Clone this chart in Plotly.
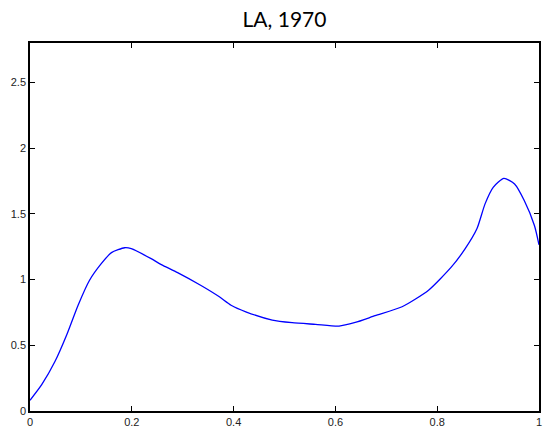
import plotly.graph_objects as go

x_vals = [0.0, 0.023, 0.049, 0.072, 0.0945, 0.117, 0.140, 0.160, 0.186, 0.199, 0.238,
          0.258, 0.290, 0.336, 0.372, 0.395, 0.424, 0.476, 0.515, 0.561, 0.607, 0.639,
          0.678, 0.731, 0.783, 0.828, 0.855, 0.878, 0.894, 0.910, 0.931, 0.952, 0.971,
          0.991, 1.0]
y_vals = [0.081, 0.20, 0.376, 0.578, 0.805, 0.995, 1.121, 1.205, 1.242, 1.235, 1.159,
          1.114, 1.053, 0.955, 0.869, 0.805, 0.755, 0.692, 0.672, 0.659, 0.646, 0.674,
          0.725, 0.793, 0.919, 1.096, 1.235, 1.386, 1.576, 1.702, 1.770, 1.727, 1.601,
          1.411, 1.265]

x_ticks = [0, 0.2, 0.4, 0.6, 0.8, 1]
x_tick_labels = ["0", "0.2", "0.4", "0.6", "0.8", "1"]
y_ticks = [0, 0.5, 1, 1.5, 2, 2.5]
y_tick_labels = ["0", "0.5", "1", "1.5", "2", "2.5"]
title_text = "LA, 1970"

fig = go.Figure()
fig.add_trace(go.Scatter(x=x_vals, y=y_vals, mode="lines",
                         line=dict(color="#0000ff", width=1.3, shape="spline", smoothing=0.6),
                         showlegend=False, hoverinfo="skip"))

axis_common = dict(showline=True, linecolor="black", linewidth=1.5, mirror="ticks",
                   ticks="inside", ticklen=5, tickcolor="black", tickwidth=1,
                   showgrid=False, zeroline=False,
                   tickfont=dict(family="Liberation Sans, Arial, sans-serif", size=11, color="#222"))

fig.update_xaxes(range=[0, 1], tickvals=x_ticks, ticktext=x_tick_labels, **axis_common)
fig.update_yaxes(range=[0, 2.8], tickvals=y_ticks, ticktext=y_tick_labels, **axis_common)

fig.update_layout(
    width=543, height=430,
    margin=dict(l=30, r=2, t=43, b=17),
    paper_bgcolor="white", plot_bgcolor="white",
    title=dict(text=title_text, x=0.5, xref="paper", y=0.955, yref="container",
               xanchor="center", yanchor="middle",
               font=dict(family="Lato, DejaVu Sans, sans-serif", size=21, color="black")),
)

fig.write_html("out.html")
